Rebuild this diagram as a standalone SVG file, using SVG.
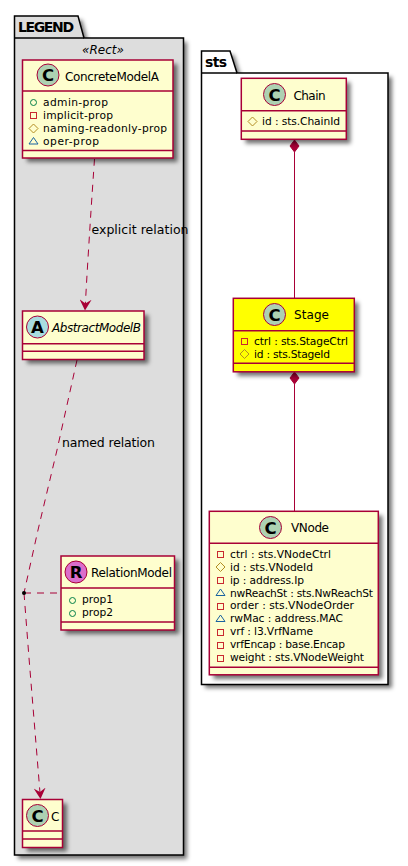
<svg xmlns="http://www.w3.org/2000/svg" width="408" height="866" viewBox="0 0 408 866">
<defs>
<filter id="sh" x="-20%" y="-20%" width="140%" height="140%"><feGaussianBlur stdDeviation="2"/></filter>
<marker id="open" viewBox="0 0 12 12" refX="11" refY="6" markerWidth="12" markerHeight="12" markerUnits="userSpaceOnUse" orient="auto"><path d="M0,0L11,6L0,12L4,6Z" fill="#A80036"/></marker>
</defs>
<style>
text{font-family:"DejaVu Sans",sans-serif;fill:#000}
.pk{fill:#fff;stroke:#000;stroke-width:1.5}
.lg{fill:#DDDDDD}
.pt{font-size:14px;font-weight:bold}
.box{fill:#FEFECE;stroke:#A80036;stroke-width:1.5}
.dv{stroke:#A80036;stroke-width:1.5;fill:none}
.sd{fill:#000;fill-opacity:.55;filter:url(#sh)}
.nm{font-size:12px}
.mb{font-size:10.7px}
.lb{font-size:12.5px}
.circ{stroke:#A80036;stroke-width:1}
.cl{font-size:16.5px;font-weight:bold;text-anchor:middle}
.con{stroke:#A80036;stroke-width:1;fill:none}
.da{stroke-dasharray:7 6}
.pub{fill:none;stroke:#038048}
.pri{fill:none;stroke:#C82930}
.pro{fill:none;stroke:#B38D22}
.pac{fill:none;stroke:#1963A0}
</style>
<g id="pkg-LEGEND">
<path class="sd" d="M18,20H82L88,42H187V859H18Z"/>
<path class="pk lg" d="M14.5,38V16H78L84,38H183.5V855H14.5Z"/>
<path class="pk" style="fill:none" d="M14.5,38H84"/>
<text class="pt" x="18" y="32" textLength="56">LEGEND</text>
<text x="103" y="54" text-anchor="middle" font-size="12" font-style="italic">«Rect»</text>
</g>
<g id="pkg-sts">
<path class="sd" d="M205,55H234L241,77H392V688H205Z"/>
<path class="pk" d="M201.5,73V51H230L237,73H388V684.5H201.5Z"/>
<path class="pk" d="M201.5,73H237"/>
<text class="pt" x="205" y="67" textLength="22">sts</text>
</g>
<g id="connectors">
<path class="con da" d="M94.500,159C92,195 88,255 85,310.500" marker-end="url(#open)"/>
<path class="con da" d="M77,360L57,450L38,530L24,593"/>
<path class="con da" d="M24,593L29,658L35.700,740L40.500,799" marker-end="url(#open)"/>
<path class="con da" d="M24,593H61"/>
<circle cx="24" cy="593" r="2" fill="#000"/>
<text class="lb" x="91.500" y="234" textLength="97">explicit relation</text>
<text class="lb" x="62" y="447" textLength="93">named relation</text>
<path d="M294.500,140L299,146L294.500,152L290,146Z" fill="#A80036" stroke="#A80036"/>
<path class="con" d="M294.500,152V298"/>
<path d="M294.500,372L299,378L294.500,384L290,378Z" fill="#A80036" stroke="#A80036"/>
<path class="con" d="M294.500,384V511"/>
</g>
<g id="ConcreteModelA">
<rect class="sd" x="27" y="64" width="150.500" height="98"/>
<rect class="box" x="22.500" y="60" width="150.500" height="98"/>
<path class="dv" d="M22.500,91H173M22.500,150.500H173"/>
<circle class="circ" cx="48" cy="75" r="11" fill="#ADD1B2"/><text class="cl" x="48" y="81">C</text>
<text class="nm" x="65" y="80.500" textLength="94">ConcreteModelA</text>
<circle class="pub" cx="33.500" cy="102.500" r="3"/>
<rect class="pri" x="30.500" y="112.500" width="6" height="6"/>
<path class="pro" d="M33.500,124L38,128.500L33.500,133L29,128.500Z"/>
<path class="pac" d="M33.500,137.500L38,144H29Z"/>
<text class="mb" x="43" y="106" textLength="65">admin-prop</text>
<text class="mb" x="43" y="119" textLength="70">implicit-prop</text>
<text class="mb" x="43" y="132" textLength="124">naming-readonly-prop</text>
<text class="mb" x="43" y="145" textLength="56">oper-prop</text>
</g>
<g id="AbstractModelB">
<rect class="sd" x="27" y="315" width="121.500" height="48.500"/>
<rect class="box" x="22.500" y="311" width="121.500" height="48.500"/>
<path class="dv" d="M22.500,343.700H144M22.500,351.300H144"/>
<circle class="circ" cx="37.500" cy="327" r="11" fill="#A9DCDF"/><text class="cl" x="37.500" y="333">A</text>
<text class="nm" x="52" y="332" font-style="italic" textLength="89">AbstractModelB</text>
</g>
<g id="RelationModel">
<rect class="sd" x="65.500" y="560" width="113.500" height="74"/>
<rect class="box" x="61" y="556" width="113.500" height="74"/>
<path class="dv" d="M61,588H174.500M61,622H174.500"/>
<circle class="circ" cx="76" cy="572" r="11" fill="#DB6ECB"/><text class="cl" x="76" y="578">R</text>
<text class="nm" x="91" y="577" textLength="81">RelationModel</text>
<circle class="pub" cx="72.500" cy="600.500" r="3"/>
<circle class="pub" cx="72.500" cy="613.500" r="3"/>
<text class="mb" x="82" y="603">prop1</text>
<text class="mb" x="82" y="616">prop2</text>
</g>
<g id="C">
<rect class="sd" x="27" y="803.500" width="40" height="48"/>
<rect class="box" x="22.500" y="799.500" width="40" height="48"/>
<path class="dv" d="M22.500,831H62.500M22.500,839H62.500"/>
<circle class="circ" cx="37.500" cy="815.500" r="11" fill="#ADD1B2"/><text class="cl" x="37.500" y="821.500">C</text>
<text class="nm" x="51" y="820.500">C</text>
</g>
<g id="Chain">
<rect class="sd" x="245.500" y="82.500" width="105" height="61"/>
<rect class="box" x="241.300" y="78.300" width="105" height="61"/>
<path class="dv" d="M241.300,110.700H346.300M241.300,131H346.300"/>
<circle class="circ" cx="274.500" cy="94.500" r="11" fill="#ADD1B2"/><text class="cl" x="274.500" y="100.500">C</text>
<text class="nm" x="293.500" y="99.500" textLength="32">Chain</text>
<path class="pro" d="M252.500,117L257,121.500L252.500,126L248,121.500Z"/>
<text class="mb" x="262" y="125" textLength="78">id : sts.ChainId</text>
</g>
<g id="Stage">
<rect class="sd" x="237.500" y="302.500" width="121" height="73.500"/>
<rect class="box" x="233.300" y="298.300" width="121" height="73.500" style="fill:#FFFF00"/>
<path class="dv" d="M233.300,330.700H354.300M233.300,363.300H354.300"/>
<circle class="circ" cx="274.500" cy="314.500" r="11" fill="#ADD1B2"/><text class="cl" x="274.500" y="320.500">C</text>
<text class="nm" x="294" y="319" textLength="35">Stage</text>
<rect class="pri" x="241.500" y="338.500" width="6" height="6"/>
<path class="pro" d="M244.500,349.500L249,354L244.500,358.500L240,354Z"/>
<text class="mb" x="254" y="345" textLength="94">ctrl : sts.StageCtrl</text>
<text class="mb" x="254" y="358" textLength="76">id : sts.StageId</text>
</g>
<g id="VNode">
<rect class="sd" x="213.500" y="515.500" width="169" height="163.500"/>
<rect class="box" x="209.300" y="511.300" width="169" height="163.500"/>
<path class="dv" d="M209.300,543.300H378.300M209.300,667.300H378.300"/>
<circle class="circ" cx="270.500" cy="527.500" r="11" fill="#ADD1B2"/><text class="cl" x="270.500" y="533.500">C</text>
<text class="nm" x="291" y="532" textLength="38">VNode</text>
<g>
<rect class="pri" x="217.500" y="551.500" width="6" height="6"/>
<path class="pro" d="M220.500,562.500L225,567L220.500,571.500L216,567Z"/>
<rect class="pri" x="217.500" y="577.500" width="6" height="6"/>
<path class="pac" d="M220.500,589L225,595.500H216Z"/>
<rect class="pri" x="217.500" y="603.500" width="6" height="6"/>
<path class="pac" d="M220.500,615L225,621.500H216Z"/>
<rect class="pri" x="217.500" y="629.500" width="6" height="6"/>
<rect class="pri" x="217.500" y="642.500" width="6" height="6"/>
<rect class="pri" x="217.500" y="655.500" width="6" height="6"/>
</g>
<text class="mb" x="230" y="558" textLength="101">ctrl : sts.VNodeCtrl</text>
<text class="mb" x="230" y="571" textLength="83">id : sts.VNodeId</text>
<text class="mb" x="230" y="584" textLength="74">ip : address.Ip</text>
<text class="mb" x="230" y="597" textLength="143">nwReachSt : sts.NwReachSt</text>
<text class="mb" x="230" y="609" textLength="124">order : sts.VNodeOrder</text>
<text class="mb" x="230" y="622" textLength="113">rwMac : address.MAC</text>
<text class="mb" x="230" y="635" textLength="83">vrf : l3.VrfName</text>
<text class="mb" x="230" y="648" textLength="115">vrfEncap : base.Encap</text>
<text class="mb" x="230" y="661" textLength="134">weight : sts.VNodeWeight</text>
</g>
</svg>
